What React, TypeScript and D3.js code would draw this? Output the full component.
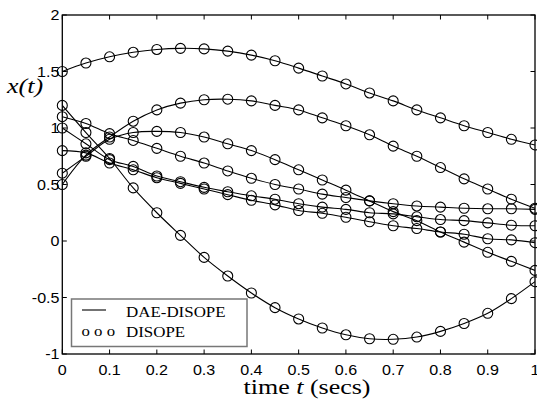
import React from 'react';
import * as d3 from 'd3';

// sample instants (secs)
const T: number[] = [0, 0.05, 0.1, 0.15, 0.2, 0.25, 0.3, 0.35, 0.4, 0.45, 0.5, 0.55, 0.6, 0.65, 0.7, 0.75, 0.8, 0.85, 0.9, 0.95, 1.0];

// state trajectories x(t)
const seriesA: number[] = [1.5, 1.575, 1.63, 1.67, 1.695, 1.705, 1.7, 1.68, 1.645, 1.595, 1.53, 1.46, 1.39, 1.31, 1.24, 1.16, 1.09, 1.02, 0.96, 0.9, 0.85];
const seriesB: number[] = [0.5, 0.76, 0.92, 1.06, 1.16, 1.22, 1.25, 1.255, 1.24, 1.2, 1.16, 1.09, 1.02, 0.94, 0.84, 0.75, 0.65, 0.55, 0.46, 0.37, 0.29];
const seriesC: number[] = [0.6, 0.75, 0.9, 0.96, 0.97, 0.96, 0.92, 0.86, 0.8, 0.72, 0.63, 0.54, 0.45, 0.355, 0.26, 0.18, 0.08, -0.01, -0.1, -0.18, -0.26];
const seriesD: number[] = [1.2, 0.96, 0.73, 0.47, 0.25, 0.05, -0.145, -0.31, -0.46, -0.59, -0.69, -0.77, -0.83, -0.865, -0.87, -0.85, -0.8, -0.73, -0.64, -0.51, -0.36];
const seriesE: number[] = [1.1, 1.04, 0.95, 0.89, 0.82, 0.75, 0.69, 0.62, 0.555, 0.5, 0.46, 0.415, 0.385, 0.355, 0.33, 0.31, 0.3, 0.29, 0.285, 0.285, 0.28];
const seriesF: number[] = [1.0, 0.86, 0.72, 0.66, 0.575, 0.525, 0.475, 0.436, 0.4, 0.37, 0.33, 0.3, 0.28, 0.25, 0.24, 0.215, 0.19, 0.18, 0.16, 0.14, 0.135];
const seriesG: number[] = [0.8, 0.78, 0.69, 0.63, 0.56, 0.51, 0.46, 0.41, 0.36, 0.32, 0.27, 0.245, 0.21, 0.17, 0.135, 0.11, 0.08, 0.06, 0.02, 0.01, -0.015];

const allSeries: number[][] = [seriesA, seriesB, seriesC, seriesD, seriesE, seriesF, seriesG];

const xTicks: number[] = [0, 0.1, 0.2, 0.3, 0.4, 0.5, 0.6, 0.7, 0.8, 0.9, 1];
const xTickLabels: string[] = ['0', '0.1', '0.2', '0.3', '0.4', '0.5', '0.6', '0.7', '0.8', '0.9', '1'];
const yTicks: number[] = [-1, -0.5, 0, 0.5, 1, 1.5, 2];
const yTickLabels: string[] = ['-1', '-0.5', '0', '0.5', '1', '1.5', '2'];

const legendLabels: string[] = ['DAE-DISOPE', 'DISOPE'];

const W = 537;
const H = 403;
const L = 62.3, R = 535, TOP = 15, BOT = 354;

const SANS = '"Liberation Sans", Arial, sans-serif';
const SERIF = '"Liberation Serif", "Times New Roman", serif';

function SText(props: { x: number; y: number; sx: number; size: number; anchor?: string; family: string; italic?: boolean; children: React.ReactNode }) {
  const { x, y, sx, size, anchor, family, italic, children } = props;
  return (
    <text
      transform={`translate(${x},${y}) scale(${sx},1)`}
      textAnchor={anchor || 'start'}
      fontFamily={family}
      fontSize={size}
      fontStyle={italic ? 'italic' : 'normal'}
      fill="#000"
    >
      {children}
    </text>
  );
}

export default function App() {
  const x = d3.scaleLinear().domain([0, 1]).range([L, R]);
  const y = d3.scaleLinear().domain([-1, 2]).range([BOT, TOP]);
  const line = d3
    .line<number>()
    .x((_, i) => x(T[i]))
    .y((d) => y(d))
    .curve(d3.curveCatmullRom.alpha(0.5));

  const tick = 4.5;

  return (
    <svg width={W} height={H} style={{ position: 'absolute', left: 0, top: 0, display: 'block', background: '#fff' }}>
      <rect x={0} y={0} width={W} height={H} fill="#fff" />
      <defs>
        <clipPath id="plotclip">
          <rect x={L} y={TOP} width={R - L} height={BOT - TOP} />
        </clipPath>
      </defs>

      {/* curves */}
      <g clipPath="url(#plotclip)">
        {allSeries.map((s, k) => (
          <path key={'l' + k} d={line(s) || ''} fill="none" stroke="#000" strokeWidth={1.1} />
        ))}
      </g>
      {allSeries.map((s, k) => (
        <g key={'m' + k}>
          {s.map((v, i) => (
            <circle key={i} cx={x(T[i])} cy={y(v)} r={5} fill="none" stroke="#000" strokeWidth={1.1} />
          ))}
        </g>
      ))}

      {/* axes box */}
      <rect x={L} y={TOP} width={R - L} height={BOT - TOP} fill="none" stroke="#000" strokeWidth={1.3} />
      {xTicks.map((t, i) => (
        <g key={'xt' + i}>
          <line x1={x(t)} x2={x(t)} y1={BOT} y2={BOT - tick} stroke="#000" strokeWidth={1} />
          <line x1={x(t)} x2={x(t)} y1={TOP} y2={TOP + tick} stroke="#000" strokeWidth={1} />
          <SText x={x(t)} y={375} sx={1.15} size={14} anchor="middle" family={SANS}>
            {xTickLabels[i]}
          </SText>
        </g>
      ))}
      {yTicks.map((v, i) => (
        <g key={'yt' + i}>
          <line x1={L} x2={L + tick} y1={y(v)} y2={y(v)} stroke="#000" strokeWidth={1} />
          <line x1={R} x2={R - tick} y1={y(v)} y2={y(v)} stroke="#000" strokeWidth={1} />
          <SText x={59.5} y={y(v) + 5} sx={1.15} size={14} anchor="end" family={SANS}>
            {yTickLabels[i]}
          </SText>
        </g>
      ))}

      {/* axis labels */}
      <SText x={7} y={93} sx={1.3} size={20} family={SERIF} italic>
        x(t)
      </SText>
      <text
        transform={`translate(307,394) scale(1.3,1)`}
        textAnchor="middle"
        fontFamily={SERIF}
        fontSize={20}
        fill="#000"
      >
        time <tspan fontStyle="italic">t</tspan> (secs)
      </text>

      {/* legend */}
      <rect x={71.5} y={299} width={175.5} height={47.5} fill="#fff" stroke="#777" strokeWidth={1.5} />
      <line x1={82} x2={106} y1={310} y2={310} stroke="#000" strokeWidth={1.1} />
      <SText x={126} y={317} sx={1.21} size={14} family={SERIF}>
        {legendLabels[0]}
      </SText>
      <SText x={81.5} y={336} sx={1.2} size={14} family={SERIF}>
        o o o
      </SText>
      <SText x={126} y={337} sx={1.21} size={14} family={SERIF}>
        {legendLabels[1]}
      </SText>
    </svg>
  );
}
